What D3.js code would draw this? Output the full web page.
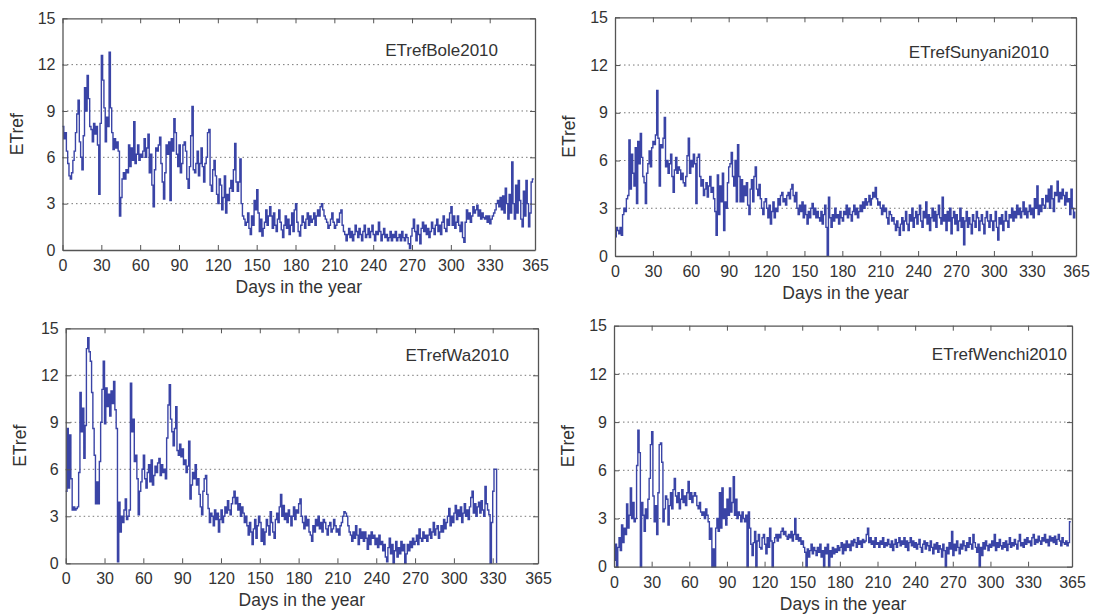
<!DOCTYPE html>
<html>
<head>
<meta charset="utf-8">
<script src="https://cdn.jsdelivr.net/npm/d3@7"></script>
<style>
  body { margin: 0; background: #fff; }
  svg { display: block; }
  text { font-family: "Liberation Sans", Arial, sans-serif; fill: #333; }
  .axis path, .axis line { stroke: #555; }
  .axis text { font-size: 16px; fill: #333; }
  .grid line { stroke: #777; stroke-dasharray: 1.5,3; }
</style>
</head>
<body>
<div class="chart-container"></div>
<script>
// ETref daily values, day 0 onward
var boleEt = [
  8.0, 7.2, 7.6, 6.4, 5.6, 4.8, 4.6, 5.0, 5.8, 6.4,
  7.6, 8.8, 9.7, 7.0, 6.0, 5.2, 7.4, 10.5, 9.0, 11.3,
  9.8, 8.0, 7.8, 7.0, 8.2, 7.5, 8.0, 6.8, 3.6, 8.2,
  12.6, 11.0, 9.2, 7.0, 8.6, 8.0, 12.8, 9.2, 7.6, 6.5,
  7.2, 6.6, 7.0, 6.4, 2.2, 3.4, 4.6, 5.0, 4.6, 5.2,
  5.0, 6.8, 5.4, 6.6, 5.8, 8.3, 5.6, 6.2, 6.8, 5.8,
  6.2, 6.0, 6.4, 7.2, 6.0, 6.6, 7.5, 5.0, 6.2, 4.2,
  2.8, 5.2, 6.6, 6.4, 6.8, 7.3, 5.6, 4.4, 3.3, 5.0,
  6.8, 6.2, 7.0, 3.2, 7.2, 6.4, 8.5, 7.6, 6.2, 5.4,
  6.8, 5.0, 5.6, 6.8, 7.0, 6.4, 4.6, 4.0, 5.4, 7.4,
  9.3, 5.2, 5.0, 5.6, 6.4, 4.8, 5.6, 6.6, 5.4, 4.4,
  5.6, 6.0, 7.6, 7.8, 4.2, 3.8, 5.2, 5.8, 4.8, 3.6,
  3.0, 4.6, 4.2, 2.6, 3.4, 4.8, 2.4, 3.6, 3.2, 4.0,
  4.5, 3.8, 5.2, 6.9, 4.4, 3.8, 4.4, 5.9, 3.0, 2.2,
  2.0, 1.6, 1.8, 2.4, 1.4, 1.0, 2.2, 1.6, 3.2, 2.6,
  3.9, 2.4, 1.2, 2.0, 0.9, 1.4, 1.8, 2.6, 1.6, 2.2,
  2.8, 2.2, 1.4, 2.4, 1.6, 1.2, 2.0, 2.6, 1.8, 1.3,
  0.8, 1.6, 2.2, 1.4, 2.0, 1.0, 1.6, 2.4, 1.2, 2.6,
  3.0, 1.8, 1.2, 0.9, 1.6, 2.2, 1.8, 1.4, 2.0, 2.4,
  1.6, 2.2, 1.8, 2.0, 2.4, 1.6, 2.2, 2.6, 2.2, 2.8,
  3.0, 2.6, 2.2, 2.0, 1.8, 1.4, 1.6, 2.0, 2.4, 1.8,
  1.4, 1.6, 2.0, 1.8, 2.4, 2.6, 1.6, 1.2, 1.0, 0.6,
  1.0, 1.4, 0.8, 1.2, 0.6, 1.0, 1.6, 1.2, 0.8, 1.4,
  1.0, 0.6, 1.2, 1.6, 0.8, 1.0, 1.4, 0.8, 1.2, 1.6,
  1.0, 0.6, 1.2, 1.0, 1.8, 1.2, 0.6, 1.0, 1.4, 0.8,
  1.0, 0.6, 0.8, 1.2, 0.6, 1.0, 0.8, 1.2, 0.6, 0.8,
  1.0, 0.6, 1.2, 0.8, 0.6, 1.0, 0.8, 0.4, 0.1, 0.9,
  1.4, 2.0, 1.2, 0.6, 1.6, 1.0, 0.4, 1.4, 1.8, 1.2,
  1.6, 1.0, 1.4, 0.8, 1.2, 1.8, 1.4, 1.0, 1.6, 2.0,
  1.2, 1.6, 1.0, 1.8, 2.2, 1.4, 1.2, 2.0, 1.6, 2.4,
  2.8, 1.6, 2.2, 1.4, 1.8, 2.2, 1.6, 1.2, 1.8, 0.8,
  0.5, 1.8, 2.6, 2.0, 2.4, 1.8, 2.2, 2.8, 2.4, 2.6,
  2.9, 2.2, 2.6, 2.0, 2.4, 2.1, 2.0, 2.2, 1.8, 2.2,
  1.7, 2.0, 2.2, 2.4, 2.6, 3.0, 3.2, 2.8, 3.4, 2.6,
  3.5, 2.4, 4.0, 3.0, 2.0, 3.6, 2.4, 5.7, 3.0, 2.0,
  4.2, 2.4, 4.5, 3.2, 2.0, 1.5, 3.8, 2.2, 4.5, 3.0,
  1.5, 2.4, 4.4, 4.6, 4.6
];

var sunyaniEt = [
  1.2, 1.8, 1.6, 1.4, 1.8, 1.3, 2.6, 3.0, 2.8, 3.6,
  3.8, 7.3, 4.2, 6.4, 5.2, 4.4, 6.8, 3.3, 7.2, 5.8,
  7.7, 6.2, 5.0, 4.6, 3.3, 5.2, 5.8, 6.6, 5.6, 6.8,
  7.2, 7.0, 7.6, 10.4, 7.4, 4.4, 7.0, 6.8, 7.4, 8.7,
  5.6, 6.0, 5.2, 5.8, 6.4, 5.0, 4.0, 5.4, 6.2, 5.2,
  5.6, 5.4, 4.8, 5.2, 4.6, 4.4, 5.0, 6.3, 7.4, 5.2,
  6.0, 5.6, 6.4, 5.8, 3.3, 6.2, 6.4, 5.0, 4.4, 4.8,
  3.8, 4.2, 4.6, 3.7, 4.4, 5.0, 4.0, 4.3, 3.6, 2.8,
  1.3, 5.1, 2.6, 4.4, 3.4, 5.2, 1.6, 3.4, 3.0, 4.6,
  5.6, 5.8, 6.5, 5.0, 4.4, 6.0, 3.4, 7.0, 5.0, 3.4,
  4.8, 3.4, 4.4, 3.8, 4.6, 3.2, 2.6, 4.2, 4.8, 3.4,
  5.0, 5.6, 4.2, 3.8, 4.5, 3.6, 3.0, 2.6, 3.4, 3.6,
  3.0, 2.4, 3.2, 2.0, 2.8, 3.4, 2.4, 3.0, 2.8, 3.6,
  3.2, 3.8, 4.0, 3.4, 3.6, 3.2, 3.8, 4.0, 3.6, 4.2,
  4.5, 3.8, 3.4, 4.0, 3.0, 2.6, 3.2, 2.8, 3.4, 2.4,
  3.2, 2.6, 2.0, 2.8, 2.4, 3.0, 3.3, 2.6, 3.0, 2.4,
  2.8, 2.4, 2.2, 2.8, 2.0, 2.6, 3.2, 1.8, 0.0, 3.7,
  2.4, 1.8, 2.6, 2.2, 3.0, 2.4, 2.6, 2.0, 2.8, 2.4,
  2.2, 2.8, 2.6, 3.2, 2.4, 3.0, 2.6, 2.2, 2.8, 3.2,
  2.6, 3.0, 2.4, 2.8, 3.2, 2.8, 3.4, 3.0, 3.6, 3.2,
  3.4, 3.8, 3.2, 3.6, 4.0, 3.7, 4.3, 3.6, 3.2, 3.4,
  3.0, 2.6, 3.2, 2.8, 3.0, 2.4, 2.0, 2.8, 2.6, 2.2,
  2.4, 2.0, 1.6, 2.2, 1.8, 1.3, 2.0, 2.4, 1.6, 2.2,
  2.8, 2.0, 1.6, 2.6, 2.2, 3.0, 1.8, 2.4, 2.8, 2.0,
  2.6, 3.2, 2.2, 1.8, 2.8, 2.4, 3.4, 2.0, 2.6, 1.6,
  2.4, 3.0, 2.2, 2.8, 1.8, 2.6, 3.2, 2.4, 2.0, 3.7,
  2.2, 2.6, 1.6, 2.8, 2.2, 3.0, 1.4, 2.4, 2.8, 2.0,
  2.6, 1.6, 2.2, 3.0, 1.8, 2.4, 0.7, 2.2, 2.8, 1.8,
  2.4, 2.0, 1.4, 2.6, 2.2, 1.8, 2.8, 2.4, 1.6, 2.2,
  2.6, 2.0, 1.4, 2.4, 2.8, 2.2, 1.8, 2.6, 2.2, 1.6,
  2.2, 2.8, 1.8, 1.0, 2.4, 2.0, 2.6, 1.6, 2.2, 2.8,
  2.2, 1.8, 2.6, 2.4, 3.0, 2.2, 2.8, 2.4, 3.2, 2.6,
  3.0, 2.4, 2.8, 3.4, 2.6, 3.0, 2.4, 2.8, 3.2, 2.6,
  3.0, 2.4, 3.6, 3.0, 4.4, 2.6, 3.2, 2.8, 3.6, 3.2,
  3.0, 3.8, 3.4, 4.2, 3.0, 4.4, 3.6, 2.8, 4.0, 3.8,
  4.7, 3.4, 4.0, 3.6, 4.2, 3.8, 3.2, 4.0, 3.4, 3.6,
  2.6, 4.2, 3.0, 2.4, 2.8
];

// Wa record stops at day 333
var waEt = [
  4.6, 8.6, 4.8, 8.2, 5.4, 3.4, 3.6, 3.4, 3.5, 3.6,
  5.8, 10.9, 8.4, 9.9, 6.7, 8.8, 13.7, 14.4, 13.5, 12.9,
  10.9, 8.6, 6.9, 3.8, 5.2, 3.8, 6.5, 9.0, 11.1, 12.9,
  8.9, 11.2, 10.0, 10.8, 9.4, 11.0, 10.2, 11.6, 9.8, 8.6,
  0.1, 3.9, 2.0, 3.0, 2.6, 3.4, 4.1, 2.8, 3.0, 3.4,
  11.5, 8.4, 9.2, 6.5, 6.9, 5.4, 3.1, 4.6, 5.2, 6.0,
  6.9, 5.4, 4.8, 5.8, 6.3, 5.2, 6.6, 5.0, 5.6, 6.2,
  5.8, 6.4, 6.7, 5.6, 6.3, 5.8, 6.0, 5.4, 8.0, 10.1,
  11.4, 9.2, 8.4, 7.5, 8.6, 10.0, 7.2, 6.9, 7.6, 6.8,
  7.3, 6.3, 6.6, 5.8, 6.2, 7.8, 4.1, 5.0, 5.8, 5.4,
  6.3, 5.0, 5.4, 4.4, 3.6, 3.1, 4.6, 5.4, 5.6, 4.4,
  3.5, 2.6, 3.2, 3.0, 2.4, 3.4, 2.8, 3.2, 2.0, 2.8,
  3.4, 2.6, 3.0, 3.6, 3.2, 4.0, 3.4, 3.1, 3.8, 4.2,
  4.6, 3.8, 4.2, 3.4, 3.8, 3.0, 3.6, 3.2, 2.6, 3.0,
  2.4, 1.8, 2.6, 2.0, 1.2, 2.2, 2.8, 1.6, 2.4, 3.0,
  2.6, 1.4, 2.2, 1.2, 2.0, 2.8, 2.4, 1.8, 3.3, 2.6,
  2.0, 1.6, 2.8, 3.2, 2.6, 3.6, 4.4, 3.0, 3.7, 2.8,
  3.2, 2.6, 3.4, 3.0, 2.4, 3.0, 3.6, 2.8, 3.4, 3.2,
  3.8, 4.1, 3.0, 2.6, 2.2, 3.0, 2.4, 2.8, 2.0, 1.8,
  1.4, 2.4, 2.0, 2.8, 2.4, 3.0, 2.2, 2.6, 2.0, 2.8,
  2.6, 2.2, 1.8, 2.4, 2.6, 2.0, 2.2, 2.8, 2.4, 2.0,
  2.2, 1.8, 2.4, 2.6, 3.0, 3.3, 3.2, 3.0, 2.4, 2.0,
  1.8, 1.4, 2.0, 1.6, 2.4, 1.8, 1.2, 2.2, 1.6, 2.0,
  1.4, 2.0, 1.6, 0.9, 1.8, 1.2, 2.0, 1.6, 1.8, 1.2,
  1.6, 1.0, 1.8, 1.2, 1.4, 0.8, 1.2, 0.4, 0.1, 1.0,
  1.6, 0.6, 1.2, 0.0, 0.8, 1.4, 0.4, 1.0, 0.6, 1.4,
  0.8, 1.2, 0.0, 0.6, 1.2, 0.8, 1.4, 1.0, 1.6, 1.2,
  1.4, 1.8, 1.2, 2.2, 1.6, 1.4, 2.0, 1.6, 1.8, 1.4,
  1.8, 2.2, 1.6, 2.0, 2.6, 1.8, 2.2, 2.4, 1.6, 2.0,
  2.4, 2.0, 2.8, 2.2, 2.6, 3.0, 3.5, 2.4, 3.0, 2.6,
  3.2, 3.7, 2.8, 3.4, 3.0, 3.6, 2.6, 3.2, 3.8, 3.0,
  3.4, 2.8, 3.6, 4.2, 4.6, 3.2, 3.8, 3.0, 3.6, 3.9,
  3.2, 4.0, 3.4, 3.0, 4.9, 3.8, 3.4, 3.1, 0.0, 2.6,
  4.6, 6.0, 6.0, 0.0
];

var wenchiEt = [
  0.4, 1.4, 0.0, 1.2, 1.8, 1.0, 2.6, 1.5, 2.4, 2.0,
  3.9, 2.4, 3.2, 4.9, 3.0, 4.0, 2.8, 3.0, 6.3, 8.5,
  7.1, 0.0, 4.0, 3.2, 2.2, 3.6, 3.0, 4.2, 5.5, 7.6,
  8.4, 4.4, 2.8, 3.8, 2.0, 4.6, 7.6, 7.7, 6.5, 2.8,
  3.6, 4.4, 4.2, 2.6, 3.8, 4.6, 3.6, 4.8, 5.5, 4.4,
  4.0, 4.6, 3.6, 4.2, 4.8, 4.0, 4.4, 3.8, 4.6, 5.3,
  4.2, 4.6, 4.0, 4.4, 4.6, 4.4, 3.8, 3.6, 4.0, 3.4,
  3.2, 3.4, 3.0, 3.6, 3.2, 2.8, 1.7, 2.4, 0.0, 1.1,
  0.0, 2.4, 3.0, 2.2, 4.6, 2.4, 4.9, 3.0, 3.6, 2.6,
  4.2, 3.2, 4.9, 3.4, 4.0, 5.6, 3.2, 4.2, 3.0, 3.4,
  3.2, 2.8, 3.4, 3.0, 2.8, 3.2, 0.0, 3.4, 2.4, 1.4,
  0.7, 1.5, 2.2, 0.0, 1.6, 2.0, 1.2, 1.1, 1.8, 2.0,
  1.4, 0.8, 1.8, 1.2, 2.4, 1.6, 0.0, 1.5, 1.8, 2.0,
  1.6, 2.0, 1.8, 2.2, 2.4, 2.0, 2.2, 1.9, 1.7, 2.0,
  1.8, 2.2, 1.6, 2.0, 3.0, 1.7, 2.0, 1.6, 1.8, 1.4,
  1.6, 1.2, 0.9, 0.0, 1.1, 0.6, 1.0, 1.4, 0.8, 1.2,
  1.0, 0.7, 1.2, 0.9, 1.4, 0.6, 1.0, 0.0, 1.2, 0.8,
  1.4, 0.0, 1.0, 0.6, 1.2, 0.8, 1.1, 0.9, 1.3, 1.0,
  1.2, 1.5, 0.8, 1.4, 1.0, 1.6, 1.2, 1.4, 1.0, 1.6,
  1.3, 1.7, 1.5, 1.2, 1.8, 1.4, 1.6, 1.2, 1.7, 1.5,
  1.6, 2.0, 2.4, 1.5, 1.8, 1.4, 1.6, 1.2, 1.8, 1.4,
  1.5, 1.2, 1.6, 1.4, 1.8, 1.2, 1.5, 1.3, 1.7, 1.4,
  1.2, 1.6, 1.0, 1.4, 1.7, 1.2, 1.5, 1.8, 1.3, 1.6,
  1.4, 1.8, 1.2, 1.6, 1.0, 1.5, 1.8, 1.3, 1.6, 1.2,
  1.5, 1.1, 1.4, 1.7, 1.2, 0.9, 1.4, 1.6, 1.1, 1.5,
  1.3, 1.0, 1.6, 1.2, 0.8, 1.4, 1.1, 1.5, 0.9, 1.3,
  1.1, 0.6, 1.4, 1.0, 0.0, 1.2, 0.8, 1.5, 1.1, 2.2,
  0.7, 1.4, 1.0, 1.6, 1.2, 0.8, 1.4, 1.1, 1.6, 1.3,
  1.0, 1.5, 1.2, 1.8, 1.4, 1.1, 2.0, 1.5, 1.2, 0.9,
  1.4, 0.0, 1.2, 0.7, 1.5, 1.1, 1.6, 1.3, 1.0, 1.4,
  1.2, 1.6, 1.3, 2.0, 1.0, 1.5, 1.2, 1.7, 1.3, 1.1,
  1.5, 1.2, 1.6, 1.0, 1.4, 1.8, 1.2, 1.5, 1.3, 1.7,
  1.4, 1.1, 1.6, 2.0, 1.3, 1.5, 1.2, 1.7, 1.4, 1.8,
  1.5, 1.6, 1.3, 1.8, 2.0, 1.4, 1.7, 1.5, 1.9, 1.6,
  1.4, 1.8, 1.6, 2.0, 1.5, 1.7, 1.3, 1.9, 1.6, 1.8,
  1.5, 1.9, 1.4, 1.7, 2.0, 1.6, 1.3, 1.8, 1.5, 1.4,
  1.6, 1.3, 1.5, 2.8, 2.8
];

var stationTitles = ["ETrefBole2010", "ETrefSunyani2010", "ETrefWa2010", "ETrefWenchi2010"];
var dayTicks = [0, 30, 60, 90, 120, 150, 180, 210, 240, 270, 300, 330, 365];
var etTicks = [0, 3, 6, 9, 12, 15];
var gridTicks = [3, 6, 9, 12];

var width = 1093;
var height = 615;

var svg = d3.select(".chart-container")
  .append("svg")
  .attr("width", width)
  .attr("height", height);

var panels = [
  { title: stationTitles[0], values: boleEt,    left: 62.5, top: 18.3,  right: 535,  bottom: 250,   titleRight: 498,  titleY: 56 },
  { title: stationTitles[1], values: sunyaniEt, left: 615,  top: 17.3,  right: 1076, bottom: 256,   titleRight: 1049, titleY: 58 },
  { title: stationTitles[2], values: waEt,      left: 65.7, top: 328.3, right: 538,  bottom: 563.3, titleRight: 509,  titleY: 361 },
  { title: stationTitles[3], values: wenchiEt,  left: 614,  top: 325.7, right: 1072, bottom: 566.7, titleRight: 1067, titleY: 360 }
];

function drawPanel(p) {
  var x = d3.scaleLinear().domain([0, 365]).range([p.left, p.right]);
  var y = d3.scaleLinear().domain([0, 15]).range([p.bottom, p.top]);
  var g = svg.append("g");

  g.append("g")
    .attr("class", "grid")
    .selectAll("line")
    .data(gridTicks)
    .enter()
    .append("line")
    .attr("x1", p.left)
    .attr("x2", p.right)
    .attr("y1", function(d) { return y(d); })
    .attr("y2", function(d) { return y(d); });

  // the original trace looks like a stairs plot
  var line = d3.line()
    .curve(d3.curveStepAfter)
    .x(function(d, i) { return x(i); })
    .y(function(d) { return y(d); });

  g.append("path")
    .datum(p.values)
    .attr("fill", "none")
    .attr("stroke", "#3a44a6")
    .attr("stroke-width", 1.4)
    .attr("d", line);

  g.append("g")
    .attr("class", "axis")
    .attr("transform", "translate(0," + p.bottom + ")")
    .call(d3.axisBottom(x).tickValues(dayTicks).tickSize(-5).tickSizeOuter(0).tickPadding(9.5));

  g.append("g")
    .attr("class", "axis")
    .attr("transform", "translate(0," + p.top + ")")
    .call(d3.axisTop(x).tickValues(dayTicks).tickSize(-5).tickSizeOuter(0).tickFormat(""));

  g.append("g")
    .attr("class", "axis")
    .attr("transform", "translate(" + p.left + ",0)")
    .call(d3.axisLeft(y).tickValues(etTicks).tickSize(-5).tickSizeOuter(0).tickPadding(7));

  g.append("g")
    .attr("class", "axis")
    .attr("transform", "translate(" + p.right + ",0)")
    .call(d3.axisRight(y).tickValues(etTicks).tickSize(-5).tickSizeOuter(0).tickFormat(""));

  g.selectAll(".axis .domain").attr("stroke-width", 1.3);

  g.append("text")
    .attr("x", p.titleRight)
    .attr("y", p.titleY)
    .attr("text-anchor", "end")
    .style("font-size", "17px")
    .text(p.title);

  g.append("text")
    .attr("x", (p.left + p.right) / 2)
    .attr("y", p.bottom + 43)
    .attr("text-anchor", "middle")
    .style("font-size", "17.5px")
    .text("Days in the year");

  g.append("text")
    .attr("transform", "translate(" + (p.left - 46) + "," + ((p.top + p.bottom) / 2) + ") rotate(-90)")
    .attr("dy", "0.35em")
    .attr("text-anchor", "middle")
    .style("font-size", "17.5px")
    .text("ETref");
}

panels.forEach(drawPanel);
</script>
</body>
</html>
